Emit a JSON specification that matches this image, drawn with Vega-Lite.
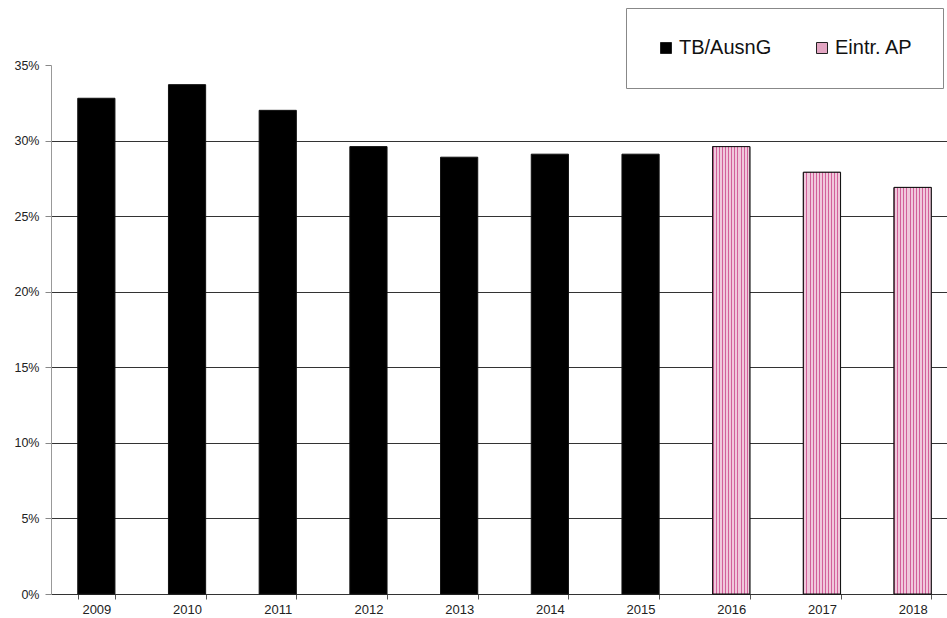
{
  "$schema": "https://vega.github.io/schema/vega-lite/v6.json",
  "autosize": {"type": "none"},
  "width": 907,
  "height": 529,
  "padding": {"left": 51, "top": 65, "right": 0, "bottom": 24},
  "background": "white",
  "config": {"view": {"stroke": null}, "font": "Liberation Sans"},
  "data": {"values": [
    {"year": "2009", "value": 0.328, "type": "TB/AusnG"},
    {"year": "2010", "value": 0.337, "type": "TB/AusnG"},
    {"year": "2011", "value": 0.320, "type": "TB/AusnG"},
    {"year": "2012", "value": 0.296, "type": "TB/AusnG"},
    {"year": "2013", "value": 0.289, "type": "TB/AusnG"},
    {"year": "2014", "value": 0.291, "type": "TB/AusnG"},
    {"year": "2015", "value": 0.291, "type": "TB/AusnG"},
    {"year": "2016", "value": 0.296, "type": "Eintr. AP"},
    {"year": "2017", "value": 0.279, "type": "Eintr. AP"},
    {"year": "2018", "value": 0.269, "type": "Eintr. AP"}
  ]},
  "encoding": {
    "x": {
      "field": "year", "type": "ordinal",
      "scale": {"paddingInner": 0.59, "paddingOuter": 0.295},
      "axis": {
        "title": null, "labelAngle": 0, "labelFontSize": 13, "labelColor": "#222",
        "labelPadding": 4, "tickBand": "extent", "tickSize": 5, "tickColor": "#555",
        "domainColor": "#333", "domainWidth": 1, "grid": false
      }
    },
    "y": {
      "field": "value", "type": "quantitative",
      "scale": {"domain": [0, 0.35], "nice": false},
      "axis": {
        "title": null, "format": ".0%", "values": [0, 0.05, 0.1, 0.15, 0.2, 0.25, 0.3, 0.35],
        "labelFontSize": 12.5, "labelColor": "#222", "labelPadding": 6,
        "tickSize": 6, "tickColor": "#888", "domainColor": "#999",
        "grid": true,
        "gridColor": {"condition": {"test": "datum.value >= 0.35 || datum.value <= 0", "value": "transparent"}, "value": "#333"},
        "gridWidth": 1
      }
    }
  },
  "layer": [
    {
      "mark": {"type": "bar", "stroke": "#111", "strokeWidth": 1},
      "encoding": {
        "fill": {
          "field": "type", "type": "nominal",
          "scale": {"domain": ["TB/AusnG", "Eintr. AP"], "range": ["#000000", "#e3a6c3"]},
          "legend": {
            "title": null, "orient": "none", "legendX": 575, "legendY": -57,
            "direction": "horizontal", "padding": 30,
            "strokeColor": "#888", "fillColor": "white",
            "symbolType": "square", "symbolSize": 121, "symbolStrokeColor": "#222", "symbolStrokeWidth": 1,
            "labelFontSize": 20, "labelColor": "#111", "labelOffset": 3, "columnPadding": 40, "labelLimit": 200
          }
        }
      }
    },
    {
      "transform": [{"filter": "datum.type === 'Eintr. AP'"}],
      "mark": {
        "type": "bar", "stroke": "#111", "strokeWidth": 1,
        "fill": {
          "gradient": "linear", "x1": 0, "y1": 0, "x2": 1, "y2": 0,
          "stops": [
            {"offset": 0, "color": "#d2609a"}, {"offset": 0.028, "color": "#d2609a"}, {"offset": 0.028, "color": "#f0c8dc"}, {"offset": 0.0833, "color": "#f0c8dc"},
            {"offset": 0.0833, "color": "#d2609a"}, {"offset": 0.1111, "color": "#d2609a"}, {"offset": 0.1111, "color": "#f0c8dc"}, {"offset": 0.1667, "color": "#f0c8dc"},
            {"offset": 0.1667, "color": "#d2609a"}, {"offset": 0.1944, "color": "#d2609a"}, {"offset": 0.1944, "color": "#f0c8dc"}, {"offset": 0.25, "color": "#f0c8dc"},
            {"offset": 0.25, "color": "#d2609a"}, {"offset": 0.2778, "color": "#d2609a"}, {"offset": 0.2778, "color": "#f0c8dc"}, {"offset": 0.3333, "color": "#f0c8dc"},
            {"offset": 0.3333, "color": "#d2609a"}, {"offset": 0.3611, "color": "#d2609a"}, {"offset": 0.3611, "color": "#f0c8dc"}, {"offset": 0.4167, "color": "#f0c8dc"},
            {"offset": 0.4167, "color": "#d2609a"}, {"offset": 0.4444, "color": "#d2609a"}, {"offset": 0.4444, "color": "#f0c8dc"}, {"offset": 0.5, "color": "#f0c8dc"},
            {"offset": 0.5, "color": "#d2609a"}, {"offset": 0.5278, "color": "#d2609a"}, {"offset": 0.5278, "color": "#f0c8dc"}, {"offset": 0.5833, "color": "#f0c8dc"},
            {"offset": 0.5833, "color": "#d2609a"}, {"offset": 0.6111, "color": "#d2609a"}, {"offset": 0.6111, "color": "#f0c8dc"}, {"offset": 0.6667, "color": "#f0c8dc"},
            {"offset": 0.6667, "color": "#d2609a"}, {"offset": 0.6944, "color": "#d2609a"}, {"offset": 0.6944, "color": "#f0c8dc"}, {"offset": 0.75, "color": "#f0c8dc"},
            {"offset": 0.75, "color": "#d2609a"}, {"offset": 0.7778, "color": "#d2609a"}, {"offset": 0.7778, "color": "#f0c8dc"}, {"offset": 0.8333, "color": "#f0c8dc"},
            {"offset": 0.8333, "color": "#d2609a"}, {"offset": 0.8611, "color": "#d2609a"}, {"offset": 0.8611, "color": "#f0c8dc"}, {"offset": 0.9167, "color": "#f0c8dc"},
            {"offset": 0.9167, "color": "#d2609a"}, {"offset": 0.9444, "color": "#d2609a"}, {"offset": 0.9444, "color": "#f0c8dc"}, {"offset": 1, "color": "#f0c8dc"}
          ]
        }
      }
    }
  ]
}
